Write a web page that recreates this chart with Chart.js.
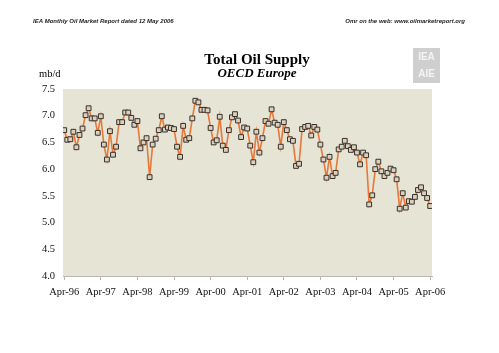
<!DOCTYPE html>
<html>
<head>
<meta charset="utf-8">
<script src="https://cdn.jsdelivr.net/npm/chart.js@4.4.0/dist/chart.umd.min.js"></script>
<style>
  html, body { margin: 0; padding: 0; background: #ffffff; }
  #wrap { width: 499px; height: 353px; position: relative; }
</style>
</head>
<body>
<div id="wrap"><canvas id="supplyChart"></canvas></div>
<script>
// Tick labels on the x axis (one per April, every 12 months)
const yearLabels = ['Apr-96', 'Apr-97', 'Apr-98', 'Apr-99', 'Apr-00', 'Apr-01',
                    'Apr-02', 'Apr-03', 'Apr-04', 'Apr-05', 'Apr-06'];
const yTicks = [4.0, 4.5, 5.0, 5.5, 6.0, 6.5, 7.0, 7.5];

// Monthly OECD Europe supply, mb/d, Apr-96 .. Apr-06
const supply96 = [6.73, 6.55, 6.56, 6.70, 6.41, 6.64, 6.76, 7.01, 7.14];
const supply97 = [6.95, 6.95, 6.68, 6.99, 6.46, 6.18, 6.71, 6.27, 6.42, 6.88, 6.88, 7.06];
const supply98 = [7.06, 6.96, 6.83, 6.90, 6.39, 6.50, 6.58, 5.85, 6.46, 6.57, 6.73, 6.99];
const supply99 = [6.74, 6.78, 6.77, 6.75, 6.42, 6.23, 6.81, 6.55, 6.58, 6.95, 7.28, 7.25];
const supply00 = [7.11, 7.11, 7.10, 6.77, 6.50, 6.54, 6.98, 6.44, 6.36, 6.73, 6.97, 7.03];
const supply01 = [6.91, 6.60, 6.78, 6.76, 6.44, 6.13, 6.70, 6.31, 6.58, 6.90, 6.85, 7.12];
const supply02 = [6.87, 6.83, 6.42, 6.88, 6.73, 6.56, 6.53, 6.06, 6.10, 6.75, 6.79, 6.81];
const supply03 = [6.63, 6.79, 6.74, 6.46, 6.18, 5.84, 6.23, 5.87, 5.93, 6.37, 6.42, 6.53];
const supply04 = [6.43, 6.36, 6.41, 6.31, 6.09, 6.31, 6.26, 5.34, 5.51, 6.00, 6.14, 5.96];
const supply05 = [5.87, 5.93, 6.01, 5.98, 5.81, 5.26, 5.55, 5.28, 5.40, 5.39, 5.48, 5.61];
const supply06 = [5.66, 5.55, 5.46, 5.31];

const supply = [].concat(supply96, supply97, supply98, supply99, supply00, supply01,
                         supply02, supply03, supply04, supply05, supply06);
const points = supply.map((v, i) => ({ x: i, y: v }));

// Paint the beige plot area and the page texts
const decorPlugin = {
    id: 'decor',
    beforeDraw(chart) {
        const ctx = chart.ctx;
        const a = chart.chartArea;
        ctx.save();
        ctx.fillStyle = '#e6e4d5';
        ctx.fillRect(a.left, a.top, a.right - a.left, a.bottom - a.top);
        ctx.restore();
    },
    afterDraw(chart) {
        const ctx = chart.ctx;
        ctx.save();
        ctx.fillStyle = '#222';
        ctx.textBaseline = 'middle';

        // header line
        ctx.font = 'italic bold 6px "Liberation Sans", Arial, sans-serif';
        ctx.textAlign = 'left';
        ctx.fillText('IEA Monthly Oil Market Report dated 12 May 2006', 33, 21);
        ctx.textAlign = 'right';
        ctx.fillText('Omr on the web: www.oilmarketreport.org', 465, 21);

        // titles
        ctx.fillStyle = '#000';
        ctx.textAlign = 'center';
        ctx.font = 'bold 15px "Liberation Serif", "Times New Roman", serif';
        ctx.fillText('Total Oil Supply', 257, 60);
        ctx.font = 'italic bold 13px "Liberation Serif", "Times New Roman", serif';
        ctx.fillText('OECD Europe', 257, 74);

        // unit
        ctx.textAlign = 'left';
        ctx.font = '10.5px "Liberation Serif", "Times New Roman", serif';
        ctx.fillText('mb/d', 39, 74);

        // logo block
        ctx.fillStyle = '#cfcfcf';
        ctx.fillRect(413, 48, 27, 35);
        ctx.fillStyle = '#f4f4f4';
        ctx.textAlign = 'center';
        ctx.font = 'bold 10px "Liberation Sans", Arial, sans-serif';
        ctx.fillText('IEA', 426.5, 57);
        ctx.fillText('AIE', 426.5, 74);
        ctx.restore();
    }
};

const ctx = document.getElementById('supplyChart');
new Chart(ctx, {
    type: 'line',
    data: {
        datasets: [{
            label: 'OECD Europe',
            data: points,
            borderColor: '#e8783a',
            borderWidth: 1.6,
            pointStyle: 'rect',
            pointRadius: 3.4,
            pointBorderWidth: 1,
            pointBorderColor: '#3b3028',
            pointBackgroundColor: '#d8d0c0',
            tension: 0,
            fill: false
        }]
    },
    options: {
        responsive: true,
        maintainAspectRatio: false,
        animation: false,
        layout: { padding: { left: 0, right: 67, top: 89, bottom: 0 } },
        plugins: {
            legend: { display: false },
            tooltip: { enabled: false }
        },
        scales: {
            x: {
                type: 'linear',
                min: -0.4,
                max: 120.6,
                afterBuildTicks(axis) {
                    axis.ticks = yearLabels.map((_, i) => ({ value: i * 12 }));
                },
                afterFit(axis) { axis.height = 77; },
                ticks: {
                    autoSkip: false,
                    maxRotation: 0,
                    padding: 6,
                    color: '#111',
                    font: { family: '"Liberation Serif", "Times New Roman", serif', size: 10.5 },
                    callback: (value) => yearLabels[Math.round(value / 12)]
                },
                grid: {
                    drawOnChartArea: false,
                    drawTicks: true,
                    tickLength: 4,
                    color: '#b8b8b0'
                },
                border: { display: true, color: '#b8b8b0', width: 1 }
            },
            y: {
                min: 4.0,
                max: 7.5,
                afterBuildTicks(axis) {
                    axis.ticks = yTicks.map(v => ({ value: v }));
                },
                afterFit(axis) { axis.width = 63; },
                ticks: {
                    padding: 8,
                    color: '#111',
                    font: { family: '"Liberation Serif", "Times New Roman", serif', size: 10.5 },
                    callback: (value) => value.toFixed(1)
                },
                grid: { display: false, drawTicks: false },
                border: { display: false }
            }
        }
    },
    plugins: [decorPlugin]
});
</script>
</body>
</html>
